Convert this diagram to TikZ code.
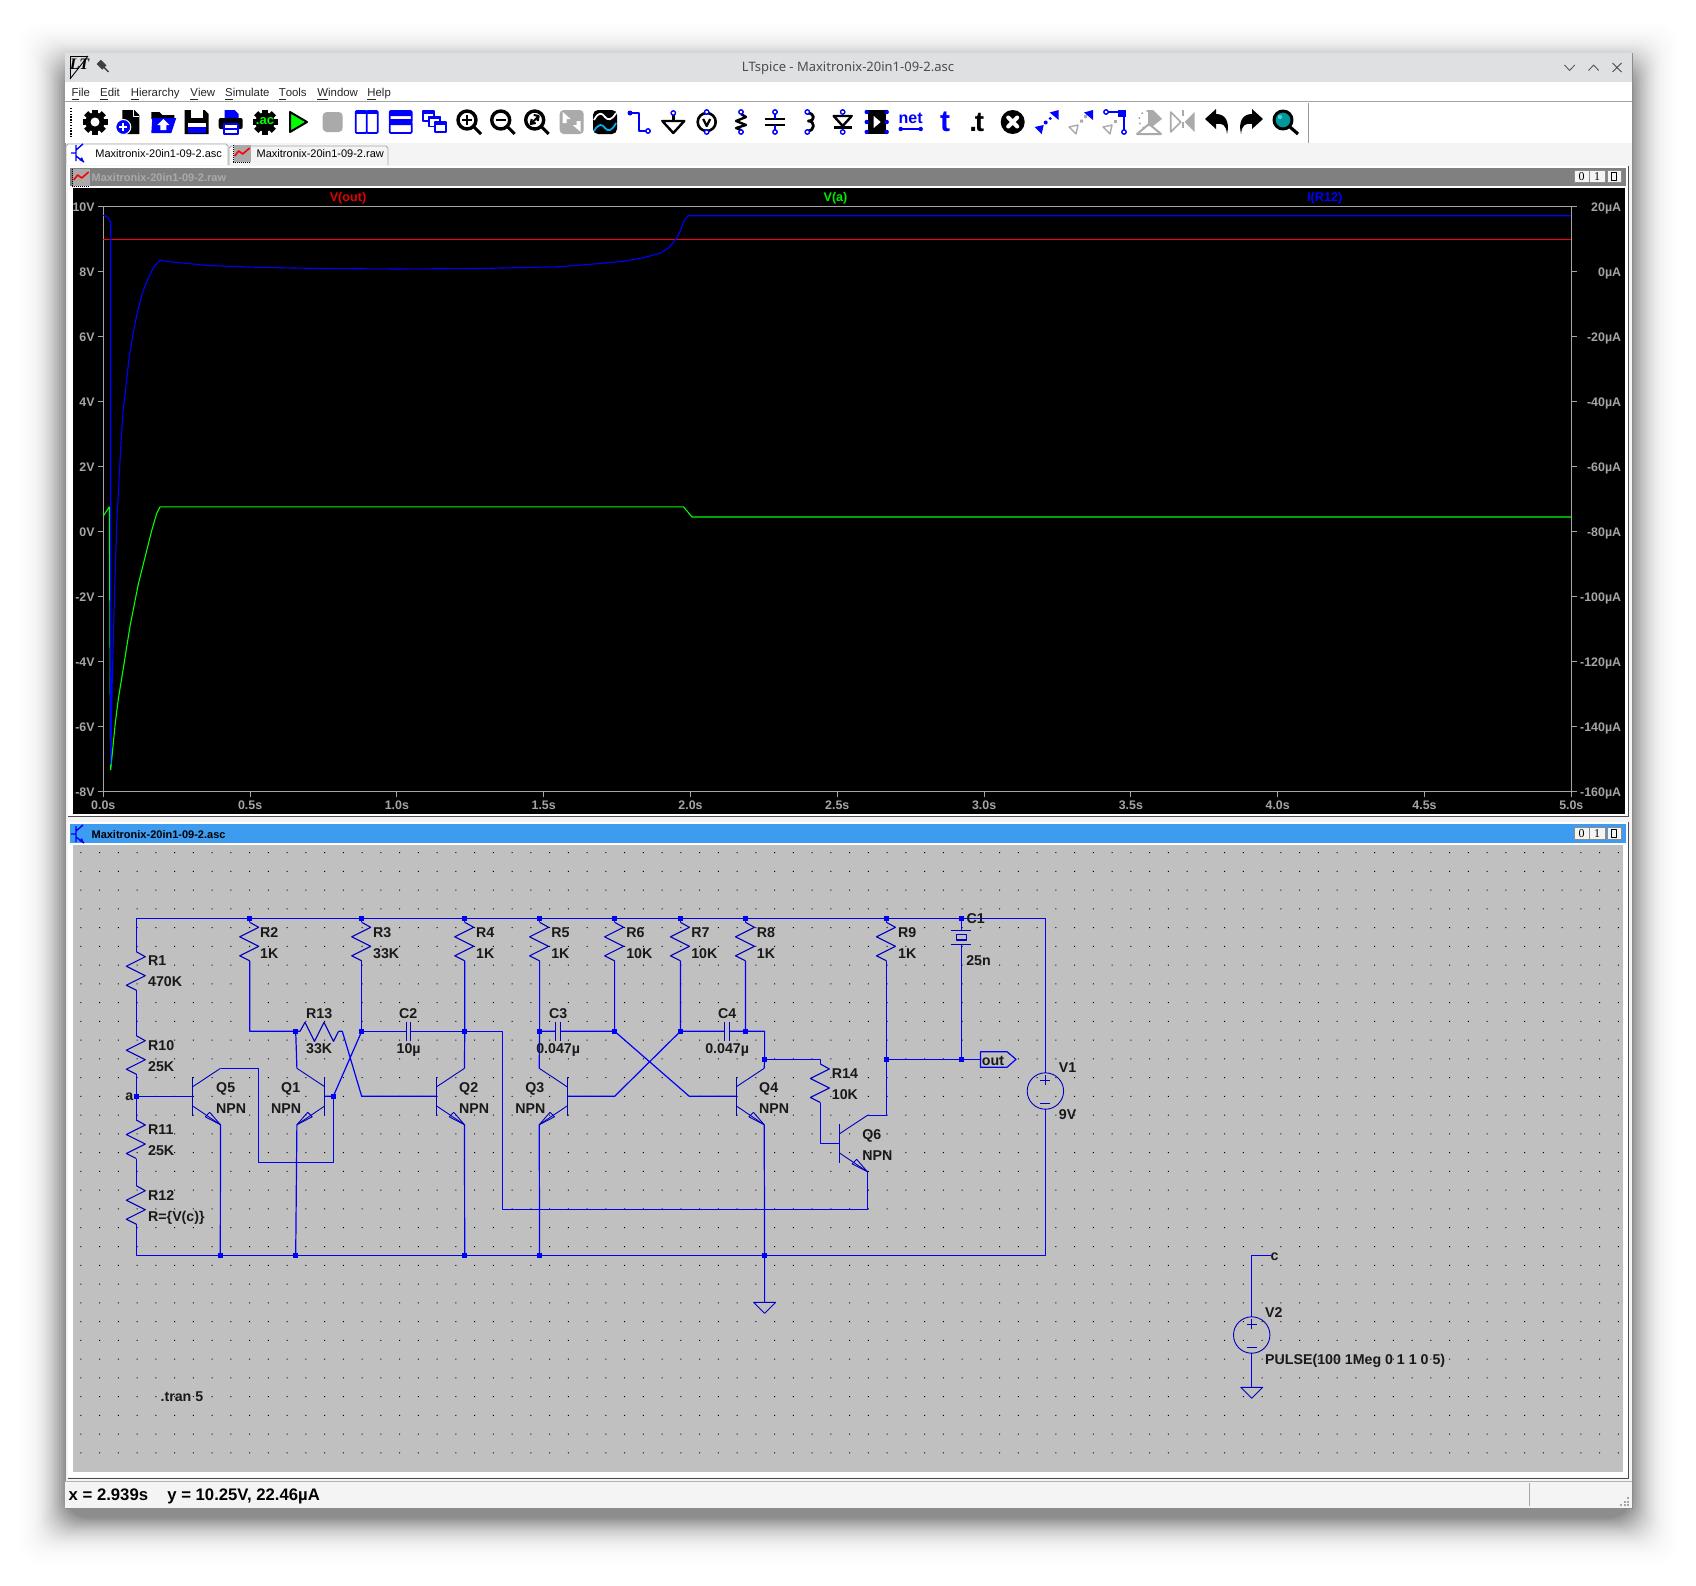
\documentclass[tikz,border=0pt]{standalone}
\usepackage{fontspec}
\setmainfont{Liberation Sans}
\newfontfamily\titlefont{Noto Sans}
\newfontfamily\boxfont{Liberation Serif}
\definecolor{wirecol}{RGB}{0,0,245}
\definecolor{compcol}{RGB}{0,0,190}
\definecolor{icblue}{RGB}{0,0,255}
\definecolor{panelgray}{RGB}{192,192,192}
\definecolor{barblue}{RGB}{61,155,240}
\definecolor{bargray}{RGB}{128,128,128}
\definecolor{titlegray}{RGB}{222,224,226}
\definecolor{tabgray}{RGB}{244,244,244}
\definecolor{icgray}{RGB}{170,170,170}
\definecolor{tickgray}{RGB}{165,165,165}
\definecolor{trgreen}{RGB}{0,235,0}
\tikzset{
	wire/.style={wirecol,line width=.6pt},
	comp/.style={compcol,line width=.45pt},
	junc/.style={rectangle,fill=wirecol,inner sep=0pt,minimum size=2.6pt},
	lbl/.style={anchor=base west,yshift=-2.5pt,xshift=-.25pt,inner sep=0pt,text=black!90,font=\fontsize{7.1}{8}\selectfont\bfseries},
	axlbl/.style={inner sep=0pt,text=tickgray,font=\fontsize{6.2}{7}\selectfont\bfseries},
	trlbl/.style={anchor=base,inner sep=0pt,font=\fontsize{6.3}{7}\selectfont\bfseries},
	tabtxt/.style={anchor=base west,inner sep=0pt,font=\fontsize{5.5}{6}\selectfont},
	mnu/.style={anchor=base west,inner sep=0pt,text=black!85,font=\fontsize{5.7}{7}\selectfont},
	stat/.style={anchor=base west,inner sep=0pt,font=\fontsize{8.35}{9}\selectfont\bfseries},
	ball/.style={draw=icblue,fill=white,line width=.7pt},
	% schematic parts
	res/.pic={
		\draw[comp,line width=.55pt] (0,0)coordinate(-top)--(9,5)--(-10,14.5)--(9,24)--(-10,33.5)--(0,38.5)coordinate(-bot);
	},
	capa/.pic={
		\draw[comp,line width=.55pt] (-2.3,-9.8)--(-2.3,9.8) (2.3,-9.8)--(2.3,9.8);
		\path (-2.3,0)coordinate(-l) (2.3,0)coordinate(-r);
	},
	npn/.pic={
		\draw[comp] (0,-19.2)--(0,19.2);
		\draw[comp] (0,-9.6)--(27.8,-28)coordinate(-c);
		\draw[comp] (0,9.7)--(27.8,28.4)coordinate(-e);
		\draw[comp] (27.8,28.4)--(12.5,20.5)--(17,16)--cycle;
		\path (0,0)coordinate(-b);
	},
	vsrc/.pic={
		\draw[comp] (0,0) circle(18.2);
		\draw[comp] (-5,-11)--(5,-11) (0,-16)--(0,-6) (-5,12)--(5,12);
		\path (0,-18.2)coordinate(-p) (0,18.2)coordinate(-n);
	},
	gnd/.pic={
		\draw[comp] (0,0)coordinate(-t)--(11,0)--(0,11)--(-11,0)--cycle;
	},
	% toolbar icons
	cogic/.pic={
		\fill[black] (0,0) circle(9.5);
		\foreach \a in {0,45,...,315}{\fill[black,rotate=\a] (-3,-12.5) rectangle (3,-7);}
	},
	gearic/.pic={
		\pic {cogic};
		\fill[white] (0,0) circle(4.5);
	},
	acic/.pic={
		\pic {cogic};
		\node[inner sep=0pt,text=green,font=\fontsize{6.5}{7}\selectfont\bfseries] (-ac) at (0,-1) {.ac};
	},
	newic/.pic={
		\fill[black] (-6,-12)--(6,-12)--(11,-7)--(11,12)--(-6,12)--cycle;
		\draw[white,line width=.5pt] (5,-12)--(5,-6)--(11,-6);
		\draw[white,fill=icblue,line width=.5pt] (-5,5) circle(7.5);
		\draw[white,line width=1pt] (-9,5)--(-1,5) (-5,1)--(-5,9);
	},
	openic/.pic={
		\fill[black] (-12,-10)--(-4,-10)--(-1,-7)--(11,-7)--(11,-3)--(-12,-3)--cycle;
		\fill[icblue] (-11,-4)--(13,-4)--(8,11)--(-12,11)--cycle;
		\fill[white] (0,-3)--(6,3)--(3,3)--(3,8)--(-3,8)--(-3,3)--(-6,3)--cycle;
	},
	saveic/.pic={
		\fill[black] (-12,-12)--(8,-12)--(12,-8)--(12,12)--(-12,12)--cycle;
		\fill[white] (-6,-12) rectangle (6,-4);
		\fill[white] (-9,1) rectangle (9,5);
		\fill[icblue] (-9,5) rectangle (9,11);
	},
	printic/.pic={
		\fill[icblue] (-6,-12)--(4,-12)--(8,-8)--(8,-4)--(-6,-4)--cycle;
		\fill[black,rounded corners=1pt] (-12,-4) rectangle (12,7);
		\draw[icblue,fill=white,line width=.8pt] (-7,2) rectangle (7,12);
		\draw[icblue,line width=.8pt] (-7,7)--(7,7);
	},
	playic/.pic={\draw[black,fill=green,line width=1pt,line join=round] (-8,-10)--(9,0)--(-8,10)--cycle;},
	stopic/.pic={\fill[icgray,rounded corners=2pt] (-10,-10) rectangle (10,10);},
	tilevic/.pic={
		\draw[icblue,fill=white,line width=.9pt,rounded corners=.5pt] (-11,-11) rectangle (0,11) (0,-11) rectangle (11,11);
		\fill[icblue] (-11,-11) rectangle (11,-8);
	},
	tilehic/.pic={
		\draw[icblue,fill=white,line width=.9pt,rounded corners=.5pt] (-11,-11) rectangle (11,0) (-11,0) rectangle (11,11);
		\fill[icblue] (-11,-11) rectangle (11,-6) (-11,-3) rectangle (11,3);
	},
	cascic/.pic={
		\foreach \d in {0,6,12}{
			\draw[icblue,fill=white,line width=.8pt] (-12+\d,-11+\d*.9) rectangle (-1+\d,-1+\d*.9);
			\fill[icblue] (-12+\d,-11+\d*.9) rectangle (-1+\d,-8+\d*.9);
		}
	},
	lensic/.pic={
		\draw[black,line width=1.7pt,fill=white] (-2,-2) circle(9);
		\draw[black,line width=1.5pt] (5,5)--(12,12);
	},
	zinic/.pic={
		\pic {lensic};
		\draw[black,line width=1.3pt] (-7,-2)--(3,-2) (-2,-7)--(-2,3);
	},
	zoutic/.pic={
		\pic {lensic};
		\draw[black,line width=1.3pt] (-7,-2)--(3,-2);
	},
	zfitic/.pic={
		\pic {lensic};
		\draw[black,line width=1pt] (-6,2)--(2,-6) (-5,-3)--(-6,2)--(-1,1) (-3,-7)--(2,-6)--(1,-1);
	},
	arrgic/.pic={
		\fill[icgray,rounded corners=2pt] (-12,-12) rectangle (12,12);
		\fill[white] (-9,-10)--(-1,-3)--(-5,-3)--(-5,1)--(-9,1)--cycle (9,10)--(1,3)--(5,3)--(5,-1)--(9,-1)--cycle;
	},
	waveic/.pic={
		\fill[black,rounded corners=2.5pt] (-12,-12) rectangle (12,12);
		\draw[white,line width=.9pt] (-11,-2) .. controls (-6,-11) and (-3,-9) .. (0,-5) .. controls (3,-1) and (7,-2) .. (11,-9);
		\draw[cyan,line width=.9pt] (-11,9) .. controls (-6,1) and (-3,2) .. (0,6) .. controls (3,10) and (7,9) .. (11,1);
	},
	wireic/.pic={
		\draw[icblue,line width=1pt] (-9,-9)--(0,-9)--(0,9)--(9,9);
		\fill[icblue] (-9,-9) circle(2.5);
		\draw[ball] (9,9) circle(2.2);
	},
	gndic/.pic={
		\draw[black,line width=1.2pt] (-11,-1)--(11,-1)--(0,11)--cycle;
		\draw[black,line width=1.2pt] (0,-7)--(0,-1);
		\draw[ball] (0,-9) circle(2.2);
	},
	voltic/.pic={
		\draw[black,line width=1.3pt] (0,0) circle(9);
		\draw[black,line width=1.1pt] (-3.5,-3)--(0,4)--(3.5,-3);
		\draw[ball] (0,-10) circle(2.2) (0,10) circle(2.2);
	},
	resic/.pic={
		\draw[black,line width=1.2pt] (0,-8)--(5,-5)--(-5,-1)--(5,3)--(-5,6)--(0,8);
		\draw[ball] (0,-10) circle(2.2) (0,10) circle(2.2);
	},
	capic/.pic={
		\draw[black,line width=1.4pt] (-10,-3)--(10,-3) (-10,3)--(10,3);
		\draw[icblue,line width=.8pt] (0,-8)--(0,-3) (0,3)--(0,8);
		\draw[ball] (0,-10) circle(2.2) (0,10) circle(2.2);
	},
	indic/.pic={
		\draw[black,line width=1.4pt] (-2,-9) .. controls (6,-9) and (6,-1) .. (-1,-1) .. controls (6,-1) and (6,9) .. (-2,9);
		\draw[ball] (-2,-10) circle(2.2) (-2,10) circle(2.2);
	},
	diodeic/.pic={
		\draw[black,fill=white,line width=1.2pt] (-9,-6)--(9,-6)--(0,4)--cycle;
		\draw[black,line width=1.5pt] (-9,5)--(9,5);
		\draw[ball] (0,-10) circle(2.2) (0,10) circle(2.2);
	},
	compic/.pic={
		\fill[black] (-9,-12) rectangle (9,12);
		\fill[white] (-3,-6)--(4,0)--(-3,6)--cycle;
		\foreach \u in {-10,0,10}{\fill[icblue] (-10,\u) circle(2.2) (10,\u) circle(2.2);}
	},
	netic/.pic={
		\node[inner sep=0pt,text=icblue,font=\fontsize{8}{9}\selectfont\bfseries] (-net) at (0,-4) {net};
		\draw[icblue,line width=1.1pt] (-10,7)--(10,7);
		\fill[icblue] (-10,7) circle(2.2) (10,7) circle(2.2);
	},
	tic/.pic={\node[inner sep=0pt,text=icblue,font=\fontsize{15}{16}\selectfont\bfseries] (-t) at (0,0) {t};},
	dtic/.pic={\node[inner sep=0pt,font=\fontsize{14}{16}\selectfont\bfseries] (-t) at (0,0) {.\kern-1.2pt t};},
	xic/.pic={
		\fill[black] (0,0) circle(12);
		\draw[white,line width=2pt,line cap=round] (-4.5,-4.5)--(4.5,4.5) (-4.5,4.5)--(4.5,-4.5);
	},
	moveic/.pic={
		\fill[icblue] (12,-12)--(3,-9.5)--(12,-2)--cycle (-12,5)--(-3,3)--(-5,12)--cycle;
		\fill[icblue] (-1,.5) circle(2) (3.5,-3.5) circle(1.6);
	},
	dupic/.pic={
		\fill[icblue] (12,-12)--(3,-9.5)--(12,-2)--cycle;
		\draw[icgray,line width=.7pt] (-12,5)--(-3,3)--(-5,12)--cycle;
		\fill[icgray] (-1,.5) rectangle (2,-2.5) (3,-4) rectangle (6,-7);
	},
	dragic/.pic={
		\draw[icgray,line width=.7pt] (-12,5)--(-3,3)--(-5,12)--cycle;
		\fill[icgray] (-1,.5) rectangle (2,-2.5);
		\draw[icblue,line width=1pt] (-9,-10)--(9,-10)--(9,9);
		\fill[icblue] (3,-12) rectangle (11,-5);
		\draw[ball] (-9,-10) circle(2.2) (9,10) circle(2.2);
	},
	rotic/.pic={
		\draw[icgray,line width=.8pt,dotted] (-1,-11) arc(-90:-250:9);
		\fill[icgray] (-1,-12)--(4,-12)--(13,-3)--(4,4)--(-1,4)--cycle;
		\draw[icgray,line width=1pt] (-12,12)--(12,12)--(0,2)--cycle;
	},
	mirric/.pic={
		\draw[icgray,line width=.8pt] (-12,-10)--(-2,0)--(-12,10)--cycle;
		\fill[icgray] (12,-10)--(2,0)--(12,10)--cycle;
		\draw[icgray,line width=.8pt,dashed] (0,-12)--(0,12);
	},
	undic/.pic={
		\fill[black] (-12,-3)--(-1,-13)--(-1,-8) .. controls (8,-8) and (13,-1) .. (10,12) .. controls (9,3) and (6,1) .. (-1,2)--(-1,7)--cycle;
	},
	findic/.pic={
		\draw[black,line width=1.5pt,fill=teal!80!cyan] (-2,-2) circle(9);
		\fill[cyan!70!white] (-5,-5) circle(2.2);
		\draw[black,line width=1.6pt] (5,5)--(13,12);
	},
	% small window icons
	ploticon/.pic={
		\fill[icgray] (-8,-8) rectangle (9,9);
		\draw[black,line width=.4pt,dash pattern=on .5pt off .5pt] (-8,-8)--(-8,9)--(9,9);
		\draw[red,line width=.8pt] (-7,3)--(-3,-2)--(1,1)--(8,-5);
	},
	schicon/.pic={
		\draw[icblue,line width=.7pt] (-4,-8)--(-4,8) (-9,0)--(-4,0) (-4,-3)--(3,-9) (-4,3)--(4,9);
		\fill[icblue] (4,9)--(-1,7)--(2,4)--cycle;
	},
	btns/.pic={
		\foreach \bx/\w in {0/15,15.5/15.5,33/14}{\draw[black!45,fill=tabgray,line width=.3pt] (\bx,0) rectangle (\bx+\w,12);}
		\node[inner sep=0pt,font=\fontsize{6}{7}\selectfont\boxfont] (-o) at (7.5,6) {0};
		\node[inner sep=0pt,font=\fontsize{6}{7}\selectfont\boxfont] (-i) at (23.2,6) {1};
		\draw[black,line width=.35pt] (37.5,2) rectangle (42.5,10);
	},
}
\begin{document}
\begin{tikzpicture}[x=.5pt,y=-.5pt,line join=round]
	\useasboundingbox (0,0) rectangle (1696,1585);
	\fill[white] (0,0) rectangle (1696,1585);
	% drop shadow of the window
	\foreach \r in {46,44,...,0}{
		\pgfmathsetmacro\sop{.002+.06*(1-\r/46)^2}
		\fill[black,opacity=\sop,rounded corners=11pt] (65-\r,68-\r) rectangle (1632+\r,1518+\r);
	}
	% window
	\fill[tabgray] (65,53) rectangle (1632,1508);
	\draw[black!45,line width=.4pt] (65,53) rectangle (1632,1508);
	\fill[titlegray] (65.3,53.3) rectangle (1631.7,82);
	\fill[white] (65.3,82) rectangle (1631.7,143);
	\draw[black!35,line width=.5pt] (65.3,101.5)--(1631.7,101.5);
	\node[anchor=base,inner sep=0pt,text=black!70,font=\fontsize{6.5}{7}\selectfont\titlefont] (wintitle) at (848,71) {LTspice - Maxitronix-20in1-09-2.asc};
	% title bar icons
	\draw[black,line width=.45pt] (70,79)--(70,56)--(88,56);
	\draw[black,line width=.45pt] (70,79)--(88,56);
	\node[inner sep=0pt,font=\fontsize{8}{9}\selectfont\boxfont\bfseries\itshape] (ltlogo) at (79.5,64) {LT};
	\fill[black!75,rotate around={45:(103.4,66.7)}] (100.5,60) rectangle (106.5,68) (102.7,68) rectangle (104.1,74);
	\draw[black!70,line width=.4pt] (1564.5,65)--(1569.6,70.5)--(1574.7,65) (1588.5,70.5)--(1593.6,65)--(1598.7,70.5) (1612.5,63)--(1621.5,72) (1621.5,63)--(1612.5,72);
	% menu
	\foreach \xa/\fst/\rst in {71.2/F/ile,99.8/E/dit,130.4/H/ierarchy,190/V/iew,224.8/S/imulate,278.4/T/ools,317/W/indow,367/H/elp}{
		\node[mnu] (m\xa) at (\xa,96.4) {\underline{\fst}\rst};
	}
	% toolbar
	\draw[black,line width=.7pt,dash pattern=on .7pt off .7pt] (71,108)--(71,138);
	\foreach \ic/\xa in {gearic/95,newic/128.3,openic/163.3,saveic/196.7,printic/230.7,acic/265,playic/298,stopic/332.7,tilevic/366.7,tilehic/400.7,cascic/435,zinic/469,zoutic/502.7,zfitic/536.7,arrgic/571.7,waveic/605,wireic/639,gndic/673.3,voltic/706.7,resic/741,capic/775,indic/809.3,diodeic/842.7,compic/876.7,netic/910.7,tic/945,dtic/976.7,xic/1012.7,moveic/1046.7,dupic/1081,dragic/1115,rotic/1149,mirric/1182.7,undic/1217,findic/1285}{
		\pic at (\xa,122) {\ic};
	}
	\pic[xscale=-1] at (1251,122) {undic};
	\draw[black!40,line width=.5pt] (1308.3,103)--(1308.3,143);
	% tabs
	\draw[black!35,fill=white,line width=.4pt] (66,165)--(66,146)--(68,144)--(226,144)--(228,146)--(228,165);
	\draw[black!35,fill=tabgray,line width=.4pt] (229,165)--(229,148)--(231,146)--(386,146)--(388,148)--(388,165);
	\pic at (80,153) {schicon};
	\pic at (241.7,153) {ploticon};
	\node[tabtxt] (tabasc) at (95,157.3) {Maxitronix-20in1-09-2.asc};
	\node[tabtxt] (tabraw) at (256.3,157.3) {Maxitronix-20in1-09-2.raw};
	% plot panel
	\fill[white] (68,166) rectangle (1628,816);
	\draw[black!70,line width=.5pt] (68,816.5)--(1628,816.5)--(1628,166);
	\fill[bargray] (70,167.5) rectangle (1625.5,186);
	\pic at (80.7,177) {ploticon};
	\node[tabtxt,text=icgray,font=\fontsize{5.5}{6}\selectfont\bfseries] (plottitle) at (91.2,181) {Maxitronix-20in1-09-2.raw};
	\pic (btna) at (1574,170.7) {btns};
	\fill[black] (73,188) rectangle (1625,814);
	\draw[tickgray,line width=.5pt] (97.7,206.5)--(1577,206.5) (103.3,206.5)--(103.3,791.5) (1571,206.5)--(1571,791.5) (97.7,791.5)--(1577,791.5);
	\foreach \v/\w [count=\k from 0] in {10V/20µA,8V/0µA,6V/-20µA,4V/-40µA,2V/-60µA,0V/-80µA,-2V/-100µA,-4V/-120µA,-6V/-140µA,-8V/-160µA}{
		\draw[tickgray,line width=.5pt] (97.7,{206.5+65*\k})--(103.3,{206.5+65*\k}) (1571,{206.5+65*\k})--(1577,{206.5+65*\k});
		\node[axlbl,anchor=base east] (yl\k) at (95,{211.5+65*\k}) {\v};
		\node[axlbl,anchor=base east] (yr\k) at (1621.5,{211.5+65*\k}) {\w};
	}
	\foreach \v [count=\k from 0] in {0.0s,0.5s,1.0s,1.5s,2.0s,2.5s,3.0s,3.5s,4.0s,4.5s,5.0s}{
		\draw[tickgray,line width=.5pt] ({103.3+146.8*\k},791.5)--({103.3+146.8*\k},796.5);
		\node[axlbl,anchor=base] (xl\k) at ({103.3+146.8*\k},809.7) {\v};
	}
	\node[trlbl,text=red!90!black] (tra) at (348,201.5) {V(out)};
	\node[trlbl,text=trgreen] (trb) at (835.5,201.5) {V(a)};
	\node[trlbl,text=icblue] (trc) at (1324.7,201.5) {I(R12)};
	% traces
	\draw[red,line width=.45pt] (103.3,239.5)--(1571,239.5);
	\draw[green,line width=.55pt] plot coordinates {(103.3,516) (109.3,506.9) (110.7,769.8) (115,725.8) (118.3,699) (123.3,668.4) (130,626.3) (138.3,584.2) (145,557.4) (151.7,530.6) (156.7,513.4) (160,506.9) (683.6,506.9) (692,517) (1571,517)};
	\draw[icblue,line width=.55pt] plot coordinates {(103.3,215.3) (108.3,217.6) (110.7,222.5) (110.7,764) (112.3,678) (114,614.8) (115.7,553.6) (117.3,511.5) (119,480.9) (121,442.6) (123.3,408.1) (125.7,389) (129,358.4) (132.7,335.4) (137.3,312.5) (142.3,293.3) (148.3,278) (154,266.5) (160,260.4) (173.3,262) (206.7,265.4) (256.7,267.3) (320,268.5) (397,269) (480,268.5) (560,266.7) (590,264.3) (623.3,261.3) (643.3,257.7) (660,253.3) (668.3,248.3) (676.7,238.3) (680.7,230) (684,220.7) (688.3,215.7) (1571,215.7)};
	% schematic panel
	\fill[white] (68,822) rectangle (1628,1477);
	\draw[black!70,line width=.5pt] (68,1478)--(1628,1478)--(1628,822);
	\fill[barblue] (70,824) rectangle (1625.5,843);
	\pic at (80,834) {schicon};
	\node[tabtxt,text=black,font=\fontsize{5.5}{6}\selectfont\bfseries] (schtitle) at (91.2,838.3) {Maxitronix-20in1-09-2.asc};
	\pic (btnb) at (1574,827.5) {btns};
	\fill[panelgray] (72.5,845) rectangle (1623,1472);
	\fill[black] \foreach \i in {0,...,82}{\foreach \j in {-3,...,29}{({80.3+18.75*\i},{908.3+18.76*\j}) rectangle +(1,1)}};
	% junctions and corners of the schematic
	\foreach \nm/\xa/\ya in {tl/136.3/918.3,ta/249.7/918.3,tb/361.7/918.3,tc/464.7/918.3,td/539.6/918.3,te/614.6/918.3,tf/680.4/918.3,tg/745.4/918.3,th/886.4/918.3,ti/961.4/918.3,tr/1045.4/918.3,
		bl/136.3/1255.3,ga/220.3/1255.3,gb/295.7/1255.3,gc/464.7/1255.3,gd/539.6/1255.3,ge/764.6/1255.3,brr/1045.4/1255.3,
		ma/295.7/1031.3,mb/361.7/1031.3,mc/464.7/1031.3,md/539.6/1031.3,me/614.6/1031.3,mf/680.4/1031.3,mg/745.4/1031.3,mh/764.6/1031.3,mi/502.7/1031.3,
		na/136.3/1096.3,oa/764.6/1059.3,ob/886.4/1059.3,oc/961.4/1059.3,od/980.4/1059.3,
		ba/333.3/1096.3,xa/342.3/1031.3,xb/361.7/1096.3,xc/614.6/1096.3,xd/689.3/1096.3,ye/502.7/1209.3,yc/258.3/1068.3,yd/258.3/1162.3,yf/886.4/1115.3,yg/1270.7/1255.3}{
		\path (\xa,\ya) coordinate (\nm);
	}
	\foreach \nm/\xa/\ya in {ra/136.3/951.7,rj/136.3/1035.7,rk/136.3/1120,rl/136.3/1185.7,rb/249.7/922.3,rc/361.7/922.3,rd/464.7/922.3,re/539.6/922.3,rf/614.6/922.3,rg/680.4/922.3,rh/745.4/922.3,ri/886.4/922.3,rn/820.4/1064}{
		\pic (\nm) at (\xa,\ya) {res};
	}
	\pic[rotate=90] (rm) at (300,1031.3) {res};
	\foreach \nm/\xa in {cb/408.6,cc/558.2,cd/727}{
		\pic (\nm) at (\xa,1031.3) {capa};
	}
	\foreach \nm/\xa/\ya in {qe/192.7/1096.3,qb/436.7/1096.3,qd/736.4/1096.3,qf/839.6/1143.3}{
		\pic (\nm) at (\xa,\ya) {npn};
	}
	\pic[xscale=-1] (qa) at (324.7,1096.3) {npn};
	\pic[xscale=-1] (qc) at (567,1096.3) {npn};
	\pic (va) at (1045.4,1091) {vsrc};
	\pic (vb) at (1251.7,1335) {vsrc};
	\pic (gx) at (764.6,1302.3) {gnd};
	\pic (gy) at (1251.7,1387.3) {gnd};
	% wires
	\draw[wire] (ra-top)--(tl)--(tr)--(va-p) (va-n)--(brr)--(bl)--(rl-bot);
	\draw[wire] (ra-bot)--(rj-top) (rj-bot)--(na)--(rk-top) (rk-bot)--(rl-top) (na)--(qe-b);
	\foreach \up/\rr in {ta/rb,tb/rc,tc/rd,td/re,te/rf,tf/rg,tg/rh,th/ri}{
		\draw[wire] (\up)--(\rr-top);
	}
	\draw[wire] (rb-bot)|-(ma)--(rm-top) (rm-bot)--(xa)--(xb)--(qb-b) (ma)--(qa-c) (qa-b)--(ba)--(mb);
	\draw[wire] (rc-bot)--(mb)--(cb-l) (cb-r)--(mc)--(mi)--(ye)-|(qf-e);
	\draw[wire] (rd-bot)--(mc)--(qb-c);
	\draw[wire] (re-bot)--(md)--(qc-c) (md)--(cc-l) (cc-r)--(me)--(rf-bot);
	\draw[wire] (rg-bot)--(mf)--(cd-l) (cd-r)--(mg)--(mh)--(oa)--(qd-c) (rh-bot)--(mg);
	\draw[wire] (qc-b)--(xc)--(mf) (qd-b)--(xd)--(me);
	\draw[wire] (oa)-|(rn-top) (rn-bot)|-(qf-b);
	\draw[wire] (ri-bot)--(ob)--(yf)--(qf-c) (ob)--(oc)--(od);
	\draw[wire] (qe-c)--(yc)--(yd)-|(ba);
	\draw[wire] (qe-e)--(ga) (qa-e)--(gb) (qb-e)--(gc) (qc-e)--(gd) (qd-e)--(ge)--(gx-t);
	% C1
	\path (961.4,930.7) coordinate (ca) (961.4,944.3) coordinate (cz);
	\draw[wire] (ti)--(ca) (cz)--(oc);
	\draw[comp,line width=.55pt] (951.4,930.7)--(971.4,930.7) (951.4,944.3)--(971.4,944.3) (956.4,934.3) rectangle (966.4,940);
	% out flag
	\draw[wire] (980.4,1051.7)--(1007,1051.7)--(1016,1059.3)--(1007,1067.3)--(980.4,1067.3)--cycle;
	% V2
	\draw[wire] (yg)-|(vb-p) (vb-n)--(gy-t);
	\foreach \p in {ta,tb,tc,td,te,tf,tg,th,ti,ga,gb,gc,gd,ge,ma,mb,mc,md,me,mf,mg,na,oa,ob,oc,ba}{
		\node[junc] (d\p) at (\p) {};
	}
	% labels
	\foreach \xa/\ya/\txt [count=\n] in {148.3/960/R1,148.3/981/470K,148.3/1045/R10,148.3/1066/25K,148.3/1129/R11,148.3/1150/25K,148.3/1195/R12,
		260.3/932/R2,260.3/953/1K,373.3/932/R3,373.3/953/33K,476.3/932/R4,476.3/953/1K,551.4/932/R5,551.4/953/1K,626.4/932/R6,626.4/953/10K,691.4/932/R7,691.4/953/10K,757/932/R8,757/953/1K,898.2/932/R9,898.2/953/1K,
		966.8/918.3/C1,966.4/960.3/25n,306.3/1013.3/R13,306.3/1048/33K,399.3/1013.3/C2,396.7/1048/10µ,549.3/1013.3/C3,536.4/1048/0.047µ,718.2/1013.3/C4,705.4/1048/0.047µ,
		216.3/1087/Q5,216.3/1108/NPN,281.3/1087/Q1,271.3/1108/NPN,459.3/1087/Q2,459.3/1108/NPN,525.4/1087/Q3,515.4/1108/NPN,759.3/1087/Q4,759.3/1108/NPN,862.5/1134.3/Q6,862.5/1155.3/NPN,
		832/1073/R14,832/1094/10K,1059/1067.5/V1,1059/1114/9V,1265.3/1312.3/V2,160.7/1396.7/.tran 5,125.5/1095.7/a,982/1060/out,1270.7/1255/c}{
		\node[lbl] (t\n) at (\xa,\ya) {\txt};
	}
	\node[lbl] (trval) at (148.3,1216) {R=\{V(c)\}};
	\node[lbl] (tpulse) at (1265.3,1359.3) {PULSE(100 1Meg 0 1 1 0 5)};
	% status bar
	\fill[tabgray] (65.3,1482) rectangle (1631.7,1507.7);
	\draw[black!30,line width=.5pt] (65.3,1481.5)--(1631.7,1481.5);
	\draw[black!35,line width=.5pt] (1529.3,1483)--(1529.3,1506);
	\foreach \gx/\gy in {1627/1497,1623.5/1500.5,1627/1500.5,1620/1504,1623.5/1504,1627/1504}{
		\fill[black!35] (\gx,\gy) rectangle +(2,2);
	}
	\node[stat] (statx) at (68.3,1500.7) {x = 2.939s};
	\node[stat] (staty) at (167,1500.7) {y = 10.25V, 22.46µA};
\end{tikzpicture}
\end{document}
